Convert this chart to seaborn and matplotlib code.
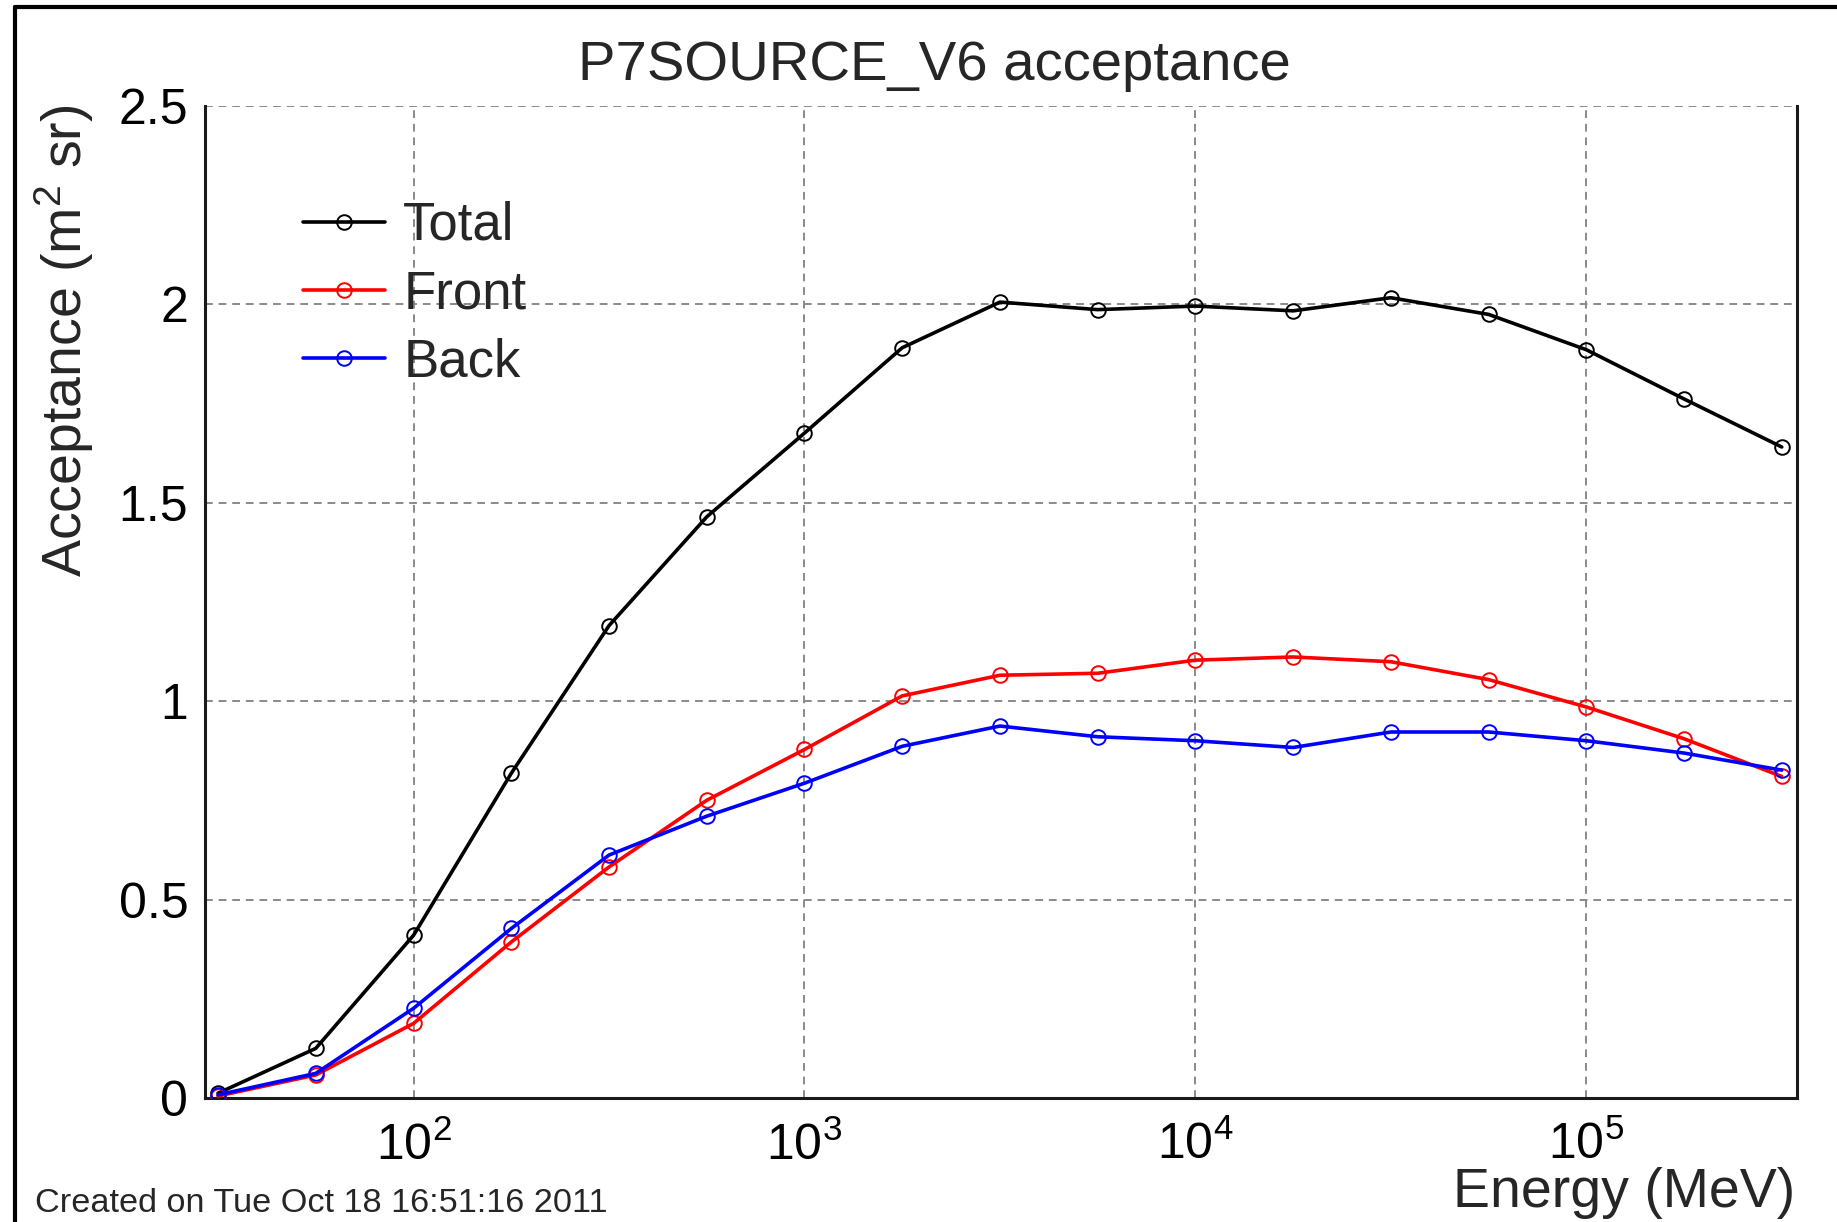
import numpy as np
import pandas as pd
import matplotlib
matplotlib.use("Agg")
import matplotlib.pyplot as plt
from matplotlib.lines import Line2D
from matplotlib.ticker import FixedLocator, FixedFormatter, NullFormatter
import seaborn as sns

# ---------------- data ----------------
energy = [31.6, 56.2, 100, 177.8, 316.2, 562.3, 1000, 1778, 3162, 5623,
          10000, 17783, 31623, 56234, 100000, 177828, 316228]
total = [0.012, 0.125, 0.41, 0.818, 1.19, 1.464, 1.675, 1.890, 2.005, 1.986,
         1.995, 1.983, 2.016, 1.974, 1.885, 1.761, 1.640]
front = [0.005, 0.058, 0.188, 0.393, 0.582, 0.750, 0.878, 1.013, 1.065, 1.070,
         1.103, 1.111, 1.099, 1.054, 0.985, 0.905, 0.810]
back = [0.008, 0.062, 0.226, 0.427, 0.612, 0.710, 0.793, 0.886, 0.937, 0.910,
        0.900, 0.883, 0.922, 0.922, 0.900, 0.869, 0.826]
series_names = ["Total", "Front", "Back"]
series_colors = ["black", "red", "blue"]

x_major = [1e2, 1e3, 1e4, 1e5]
x_major_labels = ["$10^{2}$", "$10^{3}$", "$10^{4}$", "$10^{5}$"]
y_major = [0, 0.5, 1, 1.5, 2, 2.5]
y_major_labels = ["0", "0.5", "1", "1.5", "2", "2.5"]

title_text = "P7SOURCE_V6 acceptance"
xlabel_text = "Energy (MeV)"
ylabel_text = "Acceptance (m$^{2}$ sr)"
footer_text = "Created on Tue Oct 18 16:51:16 2011"

# ---------------- style ----------------
sns.set_style("white")
plt.rcParams["font.family"] = ["Liberation Sans", "DejaVu Sans"]
plt.rcParams["mathtext.fontset"] = "custom"
plt.rcParams["mathtext.rm"] = "Liberation Sans"
plt.rcParams["mathtext.it"] = "Liberation Sans"
plt.rcParams["mathtext.bf"] = "Liberation Sans"
plt.rcParams["mathtext.default"] = "regular"

W, H = 1837, 1222
fig = plt.figure(figsize=(W / 100, H / 100), dpi=100)
fig.patch.set_facecolor("white")

L, R, T, B = 205, 1797, 105.6, 1098
ax = fig.add_axes([L / W, 1 - B / H, (R - L) / W, (B - T) / H])

df = pd.DataFrame({
    "energy": energy * 3,
    "value": total + front + back,
    "series": sum([[n] * len(energy) for n in series_names], []),
})

ax.set_xscale("log")
for name, col in zip(series_names, series_colors):
    sub = df[df["series"] == name]
    sns.lineplot(data=sub, x="energy", y="value", ax=ax, color=col,
                 estimator=None, sort=True, lw=2.6, marker="o",
                 markersize=10.5, markerfacecolor="none",
                 markeredgecolor=col, markeredgewidth=1.4, label=name,
                 zorder=3)

ax.set_xlim(10 ** 1.4664, 10 ** 5.539)
ax.set_ylim(0, 2.5)

# ticks
ax.xaxis.set_major_locator(FixedLocator(x_major))
ax.xaxis.set_major_formatter(FixedFormatter(x_major_labels))
minor_x = [m * 10 ** d for d in range(1, 6) for m in range(2, 10)]
ax.xaxis.set_minor_locator(FixedLocator(minor_x))
ax.xaxis.set_minor_formatter(NullFormatter())
ax.yaxis.set_major_locator(FixedLocator(y_major))
ax.yaxis.set_major_formatter(FixedFormatter(y_major_labels))
ax.yaxis.set_minor_locator(FixedLocator([i / 10 for i in range(26)]))

ax.tick_params(axis="both", which="both", direction="in", colors="black",
               labelsize=36, top=False, right=False)
ax.tick_params(axis="x", which="major", length=23, width=1.6, pad=17)
ax.tick_params(axis="x", which="minor", length=13, width=1.4)
ax.tick_params(axis="y", which="major", length=32, width=1.6, pad=12)
ax.tick_params(axis="y", which="minor", length=17, width=1.4)

ax.grid(True, which="major", color="#8a8a8a", lw=1.4, ls=(0, (4, 3)))
ax.set_axisbelow(True)

for side in ["left", "bottom", "right"]:
    ax.spines[side].set_visible(True)
    ax.spines[side].set_color("#1a1a1a")
    ax.spines[side].set_linewidth(2.2)
ax.spines["top"].set_visible(False)

ax.set_xlabel("")
ax.set_ylabel("")

# legend
handles, labels = ax.get_legend_handles_labels()
ax.legend(handles, labels, loc="upper left",
          bbox_to_anchor=(303 / W, 1 - 201 / H), bbox_transform=fig.transFigure,
          frameon=False, fontsize=38, handlelength=1.55, handletextpad=0.35,
          labelspacing=0.35, borderpad=0, borderaxespad=0)

# texts
fig.text(934 / W, 1 - 66 / H, title_text, ha="center", va="center", fontsize=40.5)
fig.text(1795 / W, 1 - 1193 / H, xlabel_text, ha="right", va="center", fontsize=40)
fig.text(64 / W, 1 - 105 / H, ylabel_text, ha="center", va="top", rotation=90,
         fontsize=40)
fig.text(35 / W, 1 - 1203 / H, footer_text, ha="left", va="center", fontsize=24.7)

# outer canvas frame (left and top edges visible)
fig.add_artist(Line2D([15 / W, 15 / W], [0, 1 - 7 / H], color="black", lw=3,
                      transform=fig.transFigure))
fig.add_artist(Line2D([15 / W, 1], [1 - 7 / H, 1 - 7 / H], color="black", lw=3,
                      transform=fig.transFigure))

fig.savefig("out.png", dpi=100, facecolor="white")
